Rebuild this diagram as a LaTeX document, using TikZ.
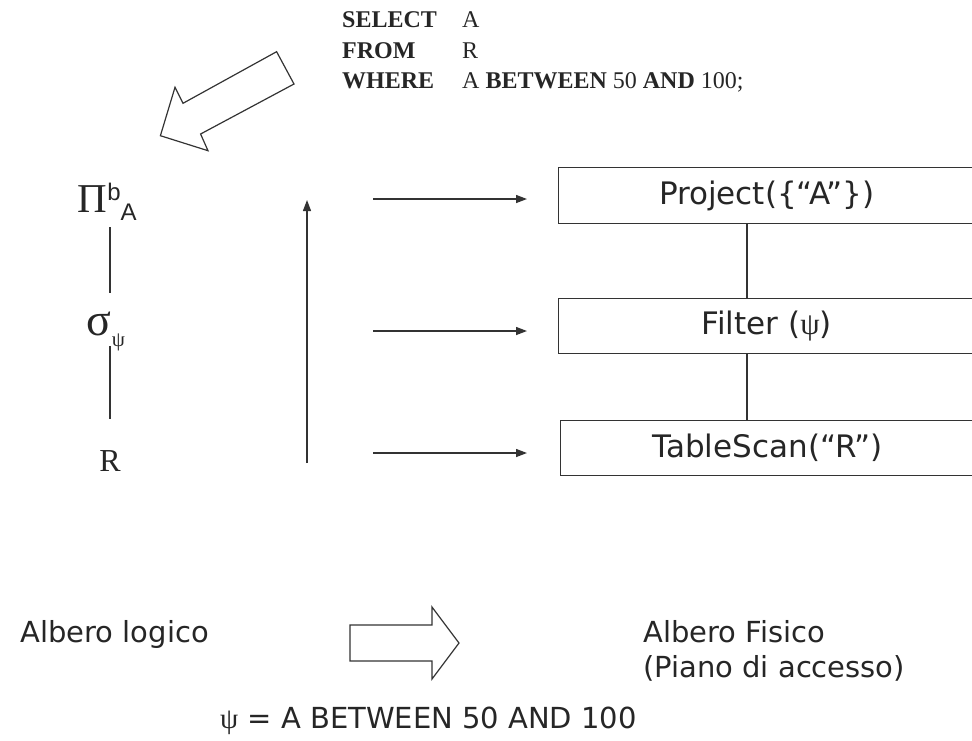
\documentclass[tikz,border=0pt]{standalone}
\usepackage{fontspec}
\setmainfont{Liberation Serif}
\setsansfont{DejaVu Sans}
\newfontfamily\arialfont{Liberation Sans}
\usetikzlibrary{arrows.meta}

\tikzset{
  link/.style={draw=black!80, line width=1.3pt},
  flow/.style={link, -{Triangle[length=11pt,width=8pt]}},
  hollow/.style={draw=black!80, line width=1.2pt, line join=miter},
  plan/.style={draw=black!80, line width=1.3pt, anchor=north west, inner sep=0pt,
    minimum width=416pt, minimum height=56pt, font=\sffamily\fontsize{31}{36}\selectfont},
  sql/.style={anchor=base west, inner sep=0pt, font=\fontsize{24}{28}\selectfont},
  tag/.style={anchor=base west, inner sep=0pt, font=\sffamily\fontsize{29}{34}\selectfont},
}

\begin{document}
\begin{tikzpicture}[x=1pt, y=-1pt, color=black!85]
\clip (0,0) rectangle (972,740);

% query
\node[sql] (kw1) at (342,27) {\textbf{SELECT}};
\node[sql] (kw2) at (342,58) {\textbf{FROM}};
\node[sql] (kw3) at (342,88) {\textbf{WHERE}};
\node[sql] (val1) at (462,27) {A};
\node[sql] (val2) at (462,58) {R};
\node[sql] (val3) at (462,88) {A \textbf{BETWEEN} 50 \textbf{AND} 100;};

% big arrow down to the logical tree
\draw[hollow] (276.6,51.7) -- (183,103.3) -- (175,87.3) -- (160.4,135.7)
  -- (208,150.7) -- (200.6,134) -- (294,84) -- cycle;

% logical tree
\node[anchor=base west, inner sep=0pt] (proj) at (77,212)
  {\fontsize{41}{41}\selectfont Π\kern0.5pt{\arialfont\fontsize{24}{24}\selectfont\raisebox{12pt}{b}\raisebox{-8pt}{A}}};
\node[anchor=base west, inner sep=0pt] (sel) at (86,335)
  {\fontsize{46}{46}\selectfont σ\kern1pt\raisebox{-11pt}{\fontsize{21}{21}\selectfont ψ}};
\node[anchor=base, inner sep=0pt] (rel) at (110,471) {\fontsize{32}{32}\selectfont R};
\coordinate (t1) at (110,227);
\coordinate (t2) at (110,293);
\coordinate (t3) at (110,346);
\coordinate (t4) at (110,419);
\draw[link] (t1) -- (t2);
\draw[link] (t3) -- (t4);

% bottom-up arrow
\coordinate (up0) at (307,463);
\coordinate (up1) at (307,200);
\draw[flow] (up0) -- (up1);

% physical plan
\node[plan] (project) at (558,167) {Project(\{“A”\})};
\node[plan, minimum height=55pt] (filter) at (558,298) {Filter ({\rmfamily ψ})};
\node[plan, minimum height=55pt, minimum width=414pt] (scan) at (560,420) {TableScan(“R”)};
\coordinate (spine) at (747,0);
\draw[link] (project.south -| spine) -- (filter.north -| spine);
\draw[link] (filter.south -| spine) -- (scan.north -| spine);

% mapping arrows
\coordinate (m1) at (373,199);
\coordinate (m2) at (373,331);
\coordinate (m3) at (373,453);
\draw[flow, shorten >=31pt] (m1) -- (m1 -| project.west);
\draw[flow, shorten >=31pt] (m2) -- (m2 -| filter.west);
\draw[flow, shorten >=33pt] (m3) -- (m3 -| scan.west);

% captions
\node[tag, anchor=base east] (logico) at (209,642) {Albero logico};
\draw[hollow] (350,625) -- (432,625) -- (432,607) -- (459,643) -- (432,679)
  -- (432,661) -- (350,661) -- cycle;
\node[tag] (fisico) at (643,642) {Albero Fisico};
\node[tag] (piano) at (643,677) {(Piano di accesso)};
\node[tag] (psi) at (220,728) {{\rmfamily ψ} = A BETWEEN 50 AND 100};
\end{tikzpicture}
\end{document}
